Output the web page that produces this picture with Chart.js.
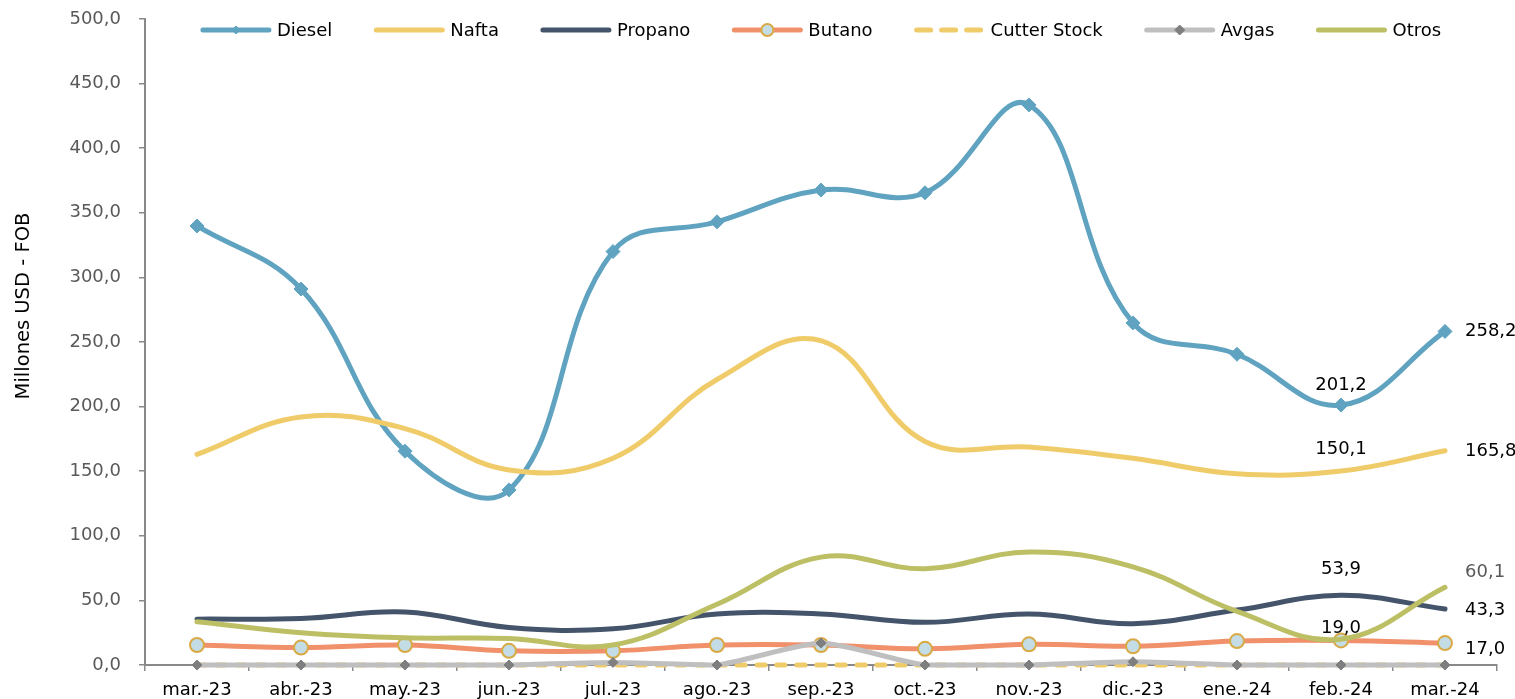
<!DOCTYPE html>
<html>
<head>
<meta charset="utf-8">
<script src="https://cdn.jsdelivr.net/npm/chart.js@4"></script>
<style>
  html, body { margin: 0; padding: 0; background: #fff; }
  #wrap { width: 1515px; height: 699px; position: relative; }
</style>
</head>
<body>
<div id="wrap"><canvas id="chart" width="1515" height="699"></canvas></div>
<script>
// categorias y series (millones USD FOB)
const categories = ['mar.-23', 'abr.-23', 'may.-23', 'jun.-23', 'jul.-23', 'ago.-23', 'sep.-23', 'oct.-23', 'nov.-23', 'dic.-23', 'ene.-24', 'feb.-24', 'mar.-24'];
const diesel = [339.8, 291.0, 165.5, 135.5, 320.0, 343.0, 367.6, 365.5, 433.5, 264.8, 240.5, 201.2, 258.2];
const nafta = [163.0, 192.0, 183.0, 151.0, 160.0, 221.0, 251.0, 173.0, 168.7, 160.0, 148.0, 150.1, 165.8];
const propano = [35.5, 36.0, 41.0, 29.0, 28.0, 39.5, 39.5, 33.0, 39.5, 32.0, 42.5, 53.9, 43.3];
const butano = [15.5, 13.5, 15.5, 11.0, 11.0, 15.5, 15.5, 12.5, 16.0, 14.5, 18.5, 19.0, 17.0];
const cutterStock = [0, 0, 0, 0, 0, 0, 0, 0, 0, 0, 0, 0, 0];
const avgas = [0, 0, 0, 0, 2.0, 0, 17.0, 0, 0, 2.5, 0, 0, 0];
const otros = [33.5, 25.0, 21.0, 20.5, 15.5, 47.0, 83.5, 74.5, 87.5, 76.0, 41.5, 20.0, 60.1];
const yTicks = [0, 50, 100, 150, 200, 250, 300, 350, 400, 450, 500];

// etiquetas de datos: serie, indice, lado
const dataLabels = [
  { ds: 0, i: 11, side: 'top', dy: -20 },
  { ds: 0, i: 12, side: 'right', dy: 0 },
  { ds: 1, i: 11, side: 'top', dy: -22 },
  { ds: 1, i: 12, side: 'right', dy: 1 },
  { ds: 2, i: 11, side: 'top', dy: -26 },
  { ds: 2, i: 12, side: 'right', dy: 1 },
  { ds: 3, i: 11, side: 'top', dy: -12 },
  { ds: 3, i: 12, side: 'right', dy: 6 },
  { ds: 6, i: 12, side: 'right', dy: -15, color: '#595959' }
];

const FONT = 'DejaVu Sans';

function fmt(v) {
  return v.toFixed(1).replace('.', ',');
}

const series = [
  { label: 'Diesel', data: diesel, color: '#5fa3c1', point: 'rectRot', radius: 7, fill: '#5fa3c1', pBorder: '#5fa3c1' },
  { label: 'Nafta', data: nafta, color: '#f0cb69', point: false },
  { label: 'Propano', data: propano, color: '#44546a', point: false },
  { label: 'Butano', data: butano, color: '#f0916c', point: 'circle', radius: 7, fill: '#c3dce5', pBorder: '#d8aa45' },
  { label: 'Cutter Stock', data: cutterStock, color: '#f0cb69', point: false, dash: [8, 12] },
  { label: 'Avgas', data: avgas, color: '#bfbfbf', point: 'rectRot', radius: 5, fill: '#7f7f7f', pBorder: '#7f7f7f', tension: 0.2 },
  { label: 'Otros', data: otros, color: '#bdbf65', point: false }
];

const datasets = series.map((s, k) => ({
  label: s.label,
  data: s.data,
  borderColor: s.color,
  backgroundColor: s.color,
  borderWidth: 5,
  borderCapStyle: 'round',
  borderJoinStyle: 'round',
  borderDash: s.dash || [],
  tension: s.tension !== undefined ? s.tension : 0.4,
  pointStyle: s.point || 'circle',
  pointRadius: s.point ? s.radius : 0,
  pointBackgroundColor: s.fill,
  pointBorderColor: s.pBorder,
  pointBorderWidth: s.point === 'circle' ? 2 : 1,
  clip: false,
  order: series.length - k
}));

const extras = {
  id: 'extras',
  afterDraw(chart) {
    const ctx = chart.ctx;
    const area = chart.chartArea;
    ctx.save();

    // titulo eje Y
    ctx.save();
    ctx.translate(24, 306);
    ctx.rotate(-Math.PI / 2);
    ctx.font = '19.5px ' + FONT;
    ctx.fillStyle = '#000';
    ctx.textAlign = 'center';
    ctx.textBaseline = 'middle';
    ctx.fillText('Millones USD - FOB', 0, 0);
    ctx.restore();

    // leyenda
    ctx.font = '18px ' + FONT;
    const lineW = 70, gap1 = 6, gap2 = 42;
    let total = 0;
    series.forEach((s, k) => {
      total += lineW + gap1 + ctx.measureText(s.label).width;
      if (k < series.length - 1) total += gap2;
    });
    let x = (area.left + area.right) / 2 - total / 2;
    const ly = 30;
    series.forEach(s => {
      ctx.save();
      ctx.strokeStyle = s.color;
      ctx.lineWidth = 5;
      ctx.lineCap = 'round';
      ctx.setLineDash(s.dash ? [14, 11] : []);
      ctx.beginPath();
      ctx.moveTo(x + 2, ly);
      ctx.lineTo(x + lineW - 2, ly);
      ctx.stroke();
      ctx.restore();
      if (s.point) {
        const cx = x + lineW / 2;
        ctx.save();
        ctx.fillStyle = s.fill;
        ctx.strokeStyle = s.pBorder;
        ctx.lineWidth = s.point === 'circle' ? 2 : 1;
        ctx.beginPath();
        if (s.point === 'circle') {
          ctx.arc(cx, ly, 6, 0, Math.PI * 2);
        } else {
          const r = s.label === 'Diesel' ? 4 : 5;
          ctx.moveTo(cx, ly - r); ctx.lineTo(cx + r, ly); ctx.lineTo(cx, ly + r); ctx.lineTo(cx - r, ly);
          ctx.closePath();
        }
        ctx.fill();
        ctx.stroke();
        ctx.restore();
      }
      ctx.fillStyle = '#000';
      ctx.textAlign = 'left';
      ctx.textBaseline = 'middle';
      ctx.fillText(s.label, x + lineW + gap1, ly + 1);
      x += lineW + gap1 + ctx.measureText(s.label).width + gap2;
    });

    // etiquetas de datos
    ctx.font = '18px ' + FONT;
    ctx.textBaseline = 'middle';
    dataLabels.forEach(l => {
      const pt = chart.getDatasetMeta(l.ds).data[l.i];
      const txt = fmt(chart.data.datasets[l.ds].data[l.i]);
      ctx.fillStyle = l.color || '#000';
      if (l.side === 'right') {
        ctx.textAlign = 'left';
        ctx.fillText(txt, pt.x + 20, pt.y + l.dy);
      } else {
        ctx.textAlign = 'center';
        ctx.fillText(txt, pt.x, pt.y + l.dy);
      }
    });
    ctx.restore();
  }
};

new Chart(document.getElementById('chart'), {
  type: 'line',
  data: { labels: categories, datasets: datasets },
  options: {
    responsive: false,
    animation: false,
    layout: { padding: { top: 19, right: 18, left: 0, bottom: 0 } },
    plugins: {
      legend: { display: false },
      tooltip: { enabled: false }
    },
    scales: {
      x: {
        offset: true,
        grid: {
          offset: true,
          drawOnChartArea: false,
          drawTicks: true,
          tickLength: 6,
          color: '#898989',
          lineWidth: 1.5
        },
        border: { display: true, color: '#898989', width: 2 },
        ticks: {
          color: '#000',
          font: { family: FONT, size: 18 },
          padding: 9,
          maxRotation: 0,
          autoSkip: false
        },
        afterFit(scale) { scale.height = 699 - 665; }
      },
      y: {
        min: 0,
        max: 500,
        afterBuildTicks(scale) { scale.ticks = yTicks.map(v => ({ value: v })); },
        grid: {
          drawOnChartArea: false,
          drawTicks: true,
          tickLength: 6,
          color: '#898989',
          lineWidth: 1.5
        },
        border: { display: true, color: '#898989', width: 2 },
        ticks: {
          color: '#595959',
          font: { family: FONT, size: 18 },
          padding: 18,
          callback: v => fmt(v)
        },
        afterFit(scale) {
          scale.width = 145;
          scale.paddingTop = 0;
          scale.paddingBottom = 0;
        }
      }
    }
  },
  plugins: [extras]
});
</script>
</body>
</html>
